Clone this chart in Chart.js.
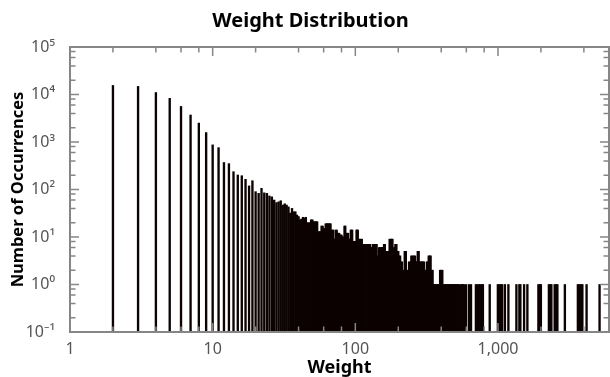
<!DOCTYPE html>
<html>
<head>
<meta charset="utf-8">
<script src="https://cdn.jsdelivr.net/npm/chart.js@4.4.1/dist/chart.umd.min.js"></script>
<style>
  html, body { margin: 0; padding: 0; background: #fff; }
</style>
</head>
<body>
<canvas id="chart-weights" width="610" height="377"></canvas>
<script>
// Poids -> nombre d'occurrences
const weights = [
  2, 3, 4, 5, 6, 7, 8, 9, 10, 11, 12, 13, 14, 15, 16, 17, 18, 19, 20, 21,
  22, 23, 24, 25, 26, 27, 28, 29, 30, 31, 32, 33, 34, 35, 36, 37, 38, 39, 40, 41,
  42, 43, 44, 45, 46, 47, 48, 49, 50, 51, 52, 53, 54, 55, 56, 57, 58, 59, 60, 61,
  62, 63, 64, 65, 66, 67, 68, 69, 70, 71, 72, 73, 74, 75, 76, 77, 78, 79, 80, 81,
  82, 83, 84, 85, 86, 87, 88, 89, 90, 91, 92, 93, 94, 95, 96, 97, 98, 99, 100, 101,
  102, 103, 104, 105, 107, 109, 111, 113, 115, 117, 119, 121, 123, 125, 127, 129, 131, 133, 135, 137,
  139, 141, 143, 145, 147, 149, 151, 153, 155, 157, 159, 161, 164, 166, 169, 171, 174, 177, 180, 182,
  185, 188, 191, 194, 197, 200, 203, 206, 209, 212, 215, 218, 222, 226, 230, 234, 238, 242, 247, 252,
  257, 262, 266, 270, 274, 278, 283, 288, 293, 298, 303, 308, 313, 318, 323, 327, 332, 337, 342, 348,
  355, 361, 367, 373, 379, 385, 393, 400, 407, 418, 425, 432, 439, 446, 453, 460, 468, 475, 483, 491,
  499, 507, 515, 524, 532, 550, 559, 568, 577, 598, 627, 647, 700, 717, 735, 753, 771, 784, 875, 998,
  1023, 1048, 1069, 1118, 1183, 1346, 1412, 1435, 1524, 1607, 1920, 1967, 1998, 2274, 2329, 2367, 2497, 2554, 2608, 2943,
  3630, 3719, 3810, 3903, 4178, 5152,
];
const counts = [
  15500, 14800, 11000, 8300, 5600, 3700, 2500, 1580, 870, 760, 370, 350, 237, 202, 195, 164, 119, 153, 90, 83,
  106, 85, 83, 73, 70, 60, 53, 55, 58, 47, 50, 47, 43, 32, 40, 34, 34, 29, 27, 23,
  24, 26, 25, 26, 20, 20, 20, 23, 23, 21, 21, 21, 21, 13, 13, 13, 17, 17, 15, 15,
  19, 19, 19, 19, 19, 19, 14, 14, 14, 9, 9, 14, 14, 12, 12, 12, 11, 11, 11, 10,
  10, 10, 17, 17, 12, 12, 12, 12, 9, 9, 9, 14, 14, 14, 8, 8, 8, 8, 8, 8,
  14, 14, 14, 9, 9, 9, 9, 7, 7, 7, 7, 7, 7, 7, 7, 6, 6, 7, 7, 7,
  7, 7, 4, 4, 6, 6, 6, 6, 6, 6, 7, 7, 5, 5, 5, 5, 9, 9, 9, 9,
  6, 6, 7, 7, 5, 5, 4, 4, 3, 3, 2, 2, 5, 5, 2, 2, 3, 3, 4, 4,
  4, 4, 3, 3, 5, 5, 3, 3, 3, 3, 3, 2, 2, 3, 3, 4, 4, 4, 2, 2,
  1, 1, 1, 1, 1, 1, 2, 2, 2, 1, 1, 1, 1, 1, 1, 1, 1, 1, 1, 1,
  1, 1, 1, 1, 1, 1, 1, 1, 1, 1, 1, 1, 1, 1, 1, 1, 1, 1, 1, 1,
  1, 1, 1, 1, 1, 1, 1, 1, 1, 1, 1, 1, 1, 1, 1, 1, 1, 1, 1, 1,
  1, 1, 1, 1, 1, 1,
];

// Graduations
const xTickValues = [1, 10, 100, 1000];
const xTickLabels = ['1', '10', '100', '1,000'];
const xMinorTicks = [2, 4, 6, 8, 20, 40, 60, 80, 200, 400, 600, 800, 2000, 4000];
const yTickValues = [0.1, 1, 10, 100, 1000, 10000, 100000];
const yTickLabels = ['10⁻¹', '10⁰', '10¹', '10²', '10³', '10⁴', '10⁵'];
const yMinorTicks = [
  0.2, 0.4, 0.6, 0.8, 2, 4, 6, 8, 20, 40, 60, 80, 200, 400, 600, 800,
  2000, 4000, 6000, 8000, 20000, 40000, 60000, 80000,
];

const AXIS_COLOR  = '#868686';
const LABEL_COLOR = '#555555';
const BAR_COLOR   = '#0c0202';
const FONT = "'Noto Sans', 'DejaVu Sans', sans-serif";

// Cadre + graduations vers l'intérieur, sur les quatre côtés
const boxTicks = {
  id: 'boxTicks',
  afterDatasetsDraw(chart) {
    const { ctx, chartArea: a, scales: { x, y } } = chart;
    ctx.save();
    ctx.strokeStyle = AXIS_COLOR;
    ctx.lineWidth = 1.5;
    ctx.beginPath();
    const xt = (v, len) => {
      const px = x.getPixelForValue(v);
      ctx.moveTo(px, a.bottom); ctx.lineTo(px, a.bottom - len);
      ctx.moveTo(px, a.top);    ctx.lineTo(px, a.top + len);
    };
    const yt = (v, len) => {
      const py = y.getPixelForValue(v);
      ctx.moveTo(a.left, py);  ctx.lineTo(a.left + len, py);
      ctx.moveTo(a.right, py); ctx.lineTo(a.right - len, py);
    };
    xTickValues.forEach(v => xt(v, 9));
    xMinorTicks.forEach(v => xt(v, 5.5));
    yTickValues.forEach(v => yt(v, 9));
    yMinorTicks.forEach(v => yt(v, 5.5));
    ctx.stroke();
    ctx.lineWidth = 2;
    ctx.strokeRect(a.left, a.top, a.right - a.left, a.bottom - a.top);
    ctx.restore();
  },
};

Chart.defaults.font.family = FONT;

new Chart(document.getElementById('chart-weights'), {
  type: 'bar',
  data: {
    datasets: [{
      label: 'Occurrences',
      data: weights.map((w, i) => ({ x: w, y: counts[i] })),
      backgroundColor: BAR_COLOR,
      borderWidth: 0,
      barThickness: 1.7,
    }],
  },
  options: {
    responsive: false, animation: false, devicePixelRatio: 1,
    layout: { padding: { left: 12, right: 1, top: 0, bottom: 0 } },
    plugins: {
      legend: { display: false },
      tooltip: { enabled: false },
      title: {
        display: true, text: 'Weight Distribution', color: '#000',
        font: { size: 20, weight: 'bold' },
        padding: { top: 9, bottom: 14 },
      },
    },
    scales: {
      x: {
        type: 'logarithmic', min: 1, max: 6000, offset: false,
        grid: { display: false, drawTicks: false, offset: false },
        border: { display: false },
        afterBuildTicks: s => { s.ticks = xTickValues.map(v => ({ value: v })); },
        afterFit: s => { s.height = 45; },
        ticks: {
          autoSkip: false, maxRotation: 0, padding: 8, color: LABEL_COLOR,
          font: { size: 16 },
          callback: v => xTickLabels[xTickValues.indexOf(v)] ?? '',
        },
        title: {
          display: true, text: 'Weight', color: '#000',
          font: { size: 18, weight: 'bold' }, padding: { top: 0, bottom: -2 },
        },
      },
      y: {
        type: 'logarithmic', min: 0.1, max: 100000,
        grid: { display: false, drawTicks: false },
        border: { display: false },
        afterBuildTicks: s => { s.ticks = yTickValues.map(v => ({ value: v })); },
        afterFit: s => { s.width = 58; },
        ticks: {
          autoSkip: false, padding: 15, color: LABEL_COLOR,
          font: { size: 16 },
          callback: v => yTickLabels[yTickValues.indexOf(v)] ?? '',
        },
        title: {
          display: true, text: 'Number of Occurrences', color: '#000',
          font: { size: 16.5, weight: 'bold' }, padding: { top: -4, bottom: 0 },
        },
      },
    },
  },
  plugins: [boxTicks],
});
</script>
</body>
</html>
